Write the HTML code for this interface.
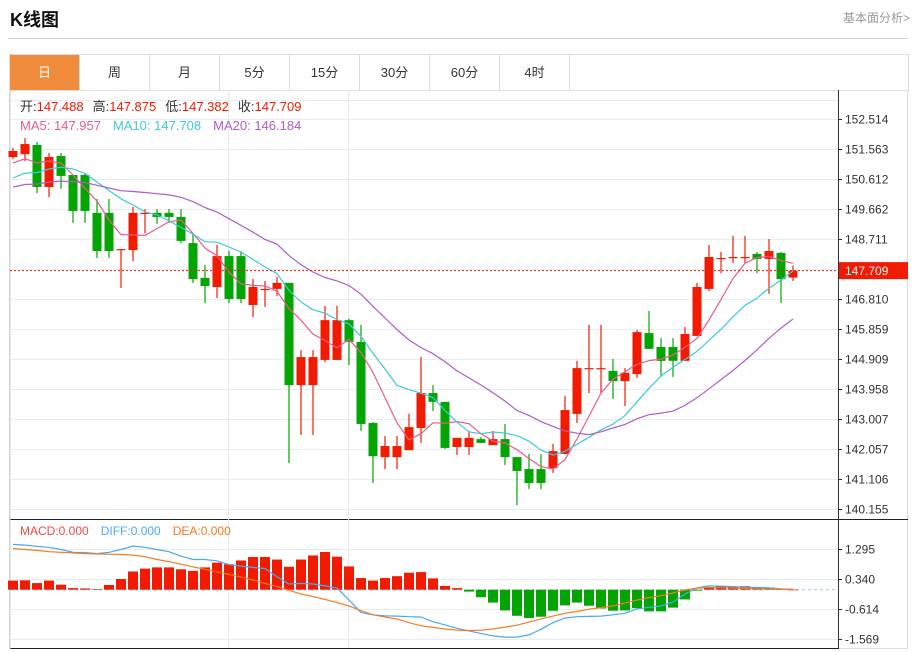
<!DOCTYPE html>
<html><head><meta charset="utf-8">
<style>
body{margin:0;background:#fff;width:918px;height:652px;overflow:hidden;font-family:"Liberation Sans","Noto Sans CJK SC",sans-serif;}
#title{position:absolute;left:10px;top:6px;font-size:18px;font-weight:bold;color:#111;}
#more{position:absolute;right:8px;top:9px;font-size:12px;color:#999;}
#hline{position:absolute;left:8px;top:38px;width:900px;height:1px;background:#d4d4d4;}
#tabs{position:absolute;left:9px;top:54px;width:898px;height:36px;border:1px solid #ddd;border-bottom:none;}
.tab{position:absolute;top:0;width:69px;height:36px;border-right:1px solid #ddd;text-align:center;line-height:36px;font-size:13px;color:#333;}
.tab.on{background:#f08c3c;color:#fff;}
svg{position:absolute;left:0;top:0;}
</style></head><body>
<div id="title">K线图</div>
<div id="more">基本面分析&gt;</div>
<div id="hline"></div>
<div id="tabs">
<div class="tab on" style="left:0">日</div>
<div class="tab" style="left:70px">周</div>
<div class="tab" style="left:140px">月</div>
<div class="tab" style="left:210px">5分</div>
<div class="tab" style="left:280px">15分</div>
<div class="tab" style="left:350px">30分</div>
<div class="tab" style="left:420px">60分</div>
<div class="tab" style="left:490px">4时</div>
</div>
<svg id="chart" width="918" height="652"></svg>
<script>
const prevCloses=[150.07,150.07,150.07,150.07,150.07,150.07,150.07,150.07,150.07,150.07,150.17,150.17,150.17,150.17,150.17,151.02,151.02,151.02,151.02];
const opens=[151.31,151.40,151.69,150.36,151.34,150.74,150.74,149.54,149.54,148.36,148.36,149.52,149.54,149.54,149.41,148.58,147.48,147.19,148.17,148.17,146.62,147.11,147.13,147.32,144.08,144.08,144.88,144.88,146.14,145.45,142.88,141.80,141.80,142.02,142.72,143.83,143.55,142.12,142.12,142.37,142.18,142.37,141.80,141.42,141.42,141.45,141.90,143.17,144.60,144.60,144.53,144.21,144.43,145.73,145.29,145.29,144.85,145.64,147.13,148.09,148.12,148.12,148.24,148.08,148.27,147.488];
const highs=[151.60,151.91,151.79,151.44,151.44,150.74,150.80,149.98,149.98,148.39,149.73,149.66,149.66,149.66,149.66,148.90,147.89,148.52,148.33,148.33,147.44,147.38,147.51,147.32,145.19,145.19,146.59,146.59,146.18,145.99,142.91,142.47,142.47,143.17,144.97,144.08,143.55,142.41,142.63,142.44,142.63,142.85,141.80,141.90,141.90,142.22,143.74,144.85,145.99,145.99,144.91,144.62,145.83,146.43,145.57,145.57,145.92,147.32,148.52,148.30,148.81,148.81,148.30,148.71,148.30,147.875];
const lows=[151.25,151.18,150.17,150.04,150.30,149.22,149.22,148.11,148.11,147.16,148.01,148.90,149.19,149.22,148.58,147.32,146.68,146.84,146.68,146.68,146.24,146.56,146.91,141.61,142.50,142.50,144.81,144.88,144.72,142.63,140.98,141.42,141.42,142.02,142.25,143.26,142.06,141.87,141.87,142.25,142.18,141.55,140.28,140.79,140.79,141.30,141.90,142.88,143.83,143.83,143.64,143.42,144.31,145.23,144.37,144.34,144.85,145.64,147.06,147.63,147.95,147.95,147.63,146.97,146.68,147.382];
const closes=[151.50,151.72,150.36,151.31,150.71,149.60,149.60,148.33,148.33,148.39,149.54,149.54,149.41,149.41,148.65,147.44,147.22,148.17,146.81,146.81,147.19,147.13,147.32,144.08,144.97,144.97,146.14,146.14,145.45,142.85,141.83,142.15,142.15,142.75,143.83,143.55,142.09,142.41,142.41,142.25,142.37,141.80,141.36,140.98,140.98,141.99,143.29,144.62,144.62,144.62,144.21,144.47,145.76,145.23,144.85,144.85,145.70,147.19,148.14,148.11,148.14,148.14,148.08,148.33,147.44,147.709];
const macdVals=[0.29,0.30,0.21,0.29,0.16,0.05,0.04,0.01,0.15,0.34,0.58,0.67,0.71,0.71,0.65,0.60,0.71,0.86,0.81,0.93,1.04,1.04,0.96,0.73,0.96,1.09,1.20,1.05,0.74,0.37,0.29,0.37,0.43,0.54,0.56,0.36,0.12,0.05,-0.06,-0.24,-0.41,-0.66,-0.83,-0.90,-0.86,-0.67,-0.50,-0.41,-0.51,-0.60,-0.67,-0.66,-0.59,-0.69,-0.69,-0.57,-0.31,-0.03,0.08,0.11,0.10,0.11,0.07,0.07,0.02,0.00];
const diffVals=[1.44,1.42,1.38,1.35,1.28,1.19,1.18,1.15,1.19,1.28,1.39,1.35,1.28,1.21,1.07,0.96,0.96,0.92,0.80,0.75,0.71,0.67,0.41,0.18,0.20,0.18,0.12,0.05,-0.33,-0.73,-0.80,-0.83,-0.84,-0.86,-0.87,-1.02,-1.12,-1.23,-1.31,-1.39,-1.47,-1.51,-1.51,-1.44,-1.26,-1.05,-0.90,-0.86,-0.85,-0.84,-0.80,-0.75,-0.61,-0.56,-0.52,-0.39,-0.14,0.06,0.12,0.11,0.10,0.08,0.07,0.06,0.03,0.01];
const deaVals=[1.31,1.28,1.25,1.21,1.19,1.17,1.15,1.14,1.13,1.12,1.10,1.05,0.96,0.89,0.81,0.73,0.65,0.57,0.49,0.40,0.31,0.20,0.10,-0.02,-0.14,-0.22,-0.31,-0.41,-0.52,-0.67,-0.80,-0.87,-0.93,-1.05,-1.15,-1.20,-1.25,-1.29,-1.30,-1.29,-1.25,-1.19,-1.13,-1.03,-0.93,-0.84,-0.75,-0.69,-0.62,-0.57,-0.52,-0.42,-0.33,-0.25,-0.19,-0.10,-0.01,0.05,0.07,0.06,0.05,0.04,0.03,0.02,0.02,0.01];
const priceTicks=["152.514","151.563","150.612","149.662","148.711","147.760","146.810","145.859","144.909","143.958","143.007","142.057","141.106","140.155"];
const macdTicks=["1.295","0.340","-0.614","-1.569"];
const lastPrice=147.709;

const svg=document.getElementById('chart');
const NS='http://www.w3.org/2000/svg';
function mk(tag,attrs,parent){const e=document.createElementNS(NS,tag);for(const k in attrs)e.setAttribute(k,attrs[k]);(parent||svg).appendChild(e);return e;}
const pTop=152.514,pBot=140.155,yTop=119,yBot=509;
function yP(p){return yTop+(pTop-p)*(yBot-yTop)/(pTop-pBot);}
function xI(i){return 13+12*i;}
const mTop=1.295,mBot=-1.569,myTop=549,myBot=639;
function yM(v){return myTop+(mTop-v)*(myBot-myTop)/(mTop-mBot);}

// frames
let g=mk('g',{});


mk('rect',{x:9.5,y:90.5,width:898,height:558,fill:'none',stroke:'#ddd'},g);
mk('line',{x1:10,y1:519.5,x2:908,y2:519.5,stroke:'#222'},g);
mk('line',{x1:838.5,y1:90,x2:838.5,y2:649,stroke:'#333'},g);
mk('line',{x1:10,y1:648.5,x2:838,y2:648.5,stroke:'#222'},g);
mk('line',{x1:10,y1:90.5,x2:10,y2:649,stroke:'#ccc'},g);
mk('line',{x1:10,y1:100.5,x2:838,y2:100.5,stroke:'#e6ecf2'},g);
[228.5,348.5].forEach(x=>mk('line',{x1:x,y1:90,x2:x,y2:648,stroke:'#e2e9f0'},g));

// price grid + ticks
priceTicks.forEach((t,k)=>{
  const y=yP(parseFloat(t));
  const ln=mk('line',{x1:10,y1:Math.round(y)+0.5,x2:838,y2:Math.round(y)+0.5,stroke:'#e6ecf2'});
  
  
  mk('line',{x1:838,y1:Math.round(y)+0.5,x2:842,y2:Math.round(y)+0.5,stroke:'#333'});
  const tx=mk('text',{x:845,y:y+4.5,'font-size':12,fill:'#333'});
  tx.textContent=t;
  
  
});
macdTicks.forEach(t=>{
  const y=yM(parseFloat(t));
  const ln=mk('line',{x1:10,y1:Math.round(y)+0.5,x2:838,y2:Math.round(y)+0.5,stroke:'#e6ecf2'});
  
  
  mk('line',{x1:838,y1:Math.round(y)+0.5,x2:842,y2:Math.round(y)+0.5,stroke:'#333'});
  const tx=mk('text',{x:845,y:y+4.5,'font-size':12,fill:'#333'});
  tx.textContent=t;
  
  
});
const z0=yM(0);
mk('line',{x1:10,y1:z0,x2:838,y2:z0,stroke:'#9cc8e8','stroke-dasharray':'3,3'});

// candles
const RED='#f21a00',GRN='#03a503';
opens.forEach((o,i)=>{
  const c=closes[i],up=c>=o,col=up?RED:GRN,x=xI(i);
  const cg=mk('g',{});
  
  
  mk('line',{x1:x,y1:yP(highs[i]),x2:x,y2:yP(lows[i]),stroke:col,'stroke-width':1.2},cg);
  const t=yP(Math.max(o,c)),b=yP(Math.min(o,c));
  mk('rect',{x:x-4.5,y:t,width:9,height:Math.max(1.2,b-t),fill:col},cg);
});

// MAs
const all=prevCloses.concat(closes),off=prevCloses.length;
function ma(n){return closes.map((_,i)=>{let s=0;for(let k=0;k<n;k++)s+=all[off+i-k];return s/n;});}
[[5,'#ec5a8c','ma5-line'],[10,'#3ec8dc','ma10-line'],[20,'#b05cc8','ma20-line']].forEach(([n,col,name])=>{
  const v=ma(n);
  const pl=mk('polyline',{points:v.map((p,i)=>xI(i)+','+yP(p).toFixed(1)).join(' '),fill:'none',stroke:col,'stroke-width':1.2});
  
  
});

// last price
mk('line',{x1:10,y1:yP(lastPrice),x2:838,y2:yP(lastPrice),stroke:'#f21a00','stroke-dasharray':'2,2'});
const lb=mk('rect',{x:839,y:yP(lastPrice)-8.5,width:69,height:17,fill:'#f21a00'});


const lt=mk('text',{x:845,y:yP(lastPrice)+4.5,'font-size':12,fill:'#fff'});
lt.textContent=lastPrice.toFixed(3);

// MACD bars
macdVals.forEach((v,i)=>{
  const y=yM(v),x=xI(i);
  const r=mk('rect',{x:x-5,y:Math.min(y,z0),width:10,height:Math.max(0.6,Math.abs(y-z0)),fill:v>=0?RED:GRN});
  
  
});
[[diffVals,'#4aa8f0','diff-line'],[deaVals,'#f57a20','dea-line']].forEach(([arr,col,name])=>{
  const pl=mk('polyline',{points:arr.map((v,i)=>xI(i)+','+yM(v).toFixed(1)).join(' '),fill:'none',stroke:col,'stroke-width':1.2});
  
  
});

// legends
function legend(y,items,name){
  const t=mk('text',{x:20,y:y,'font-size':13});
  
  
  items.forEach(([s,c,dx])=>{const sp=mk('tspan',{fill:c},t);if(dx)sp.setAttribute('dx',dx);sp.textContent=s;});
}
legend(111,[['开:','#333'],['147.488','#f21a00'],['高:','#333',9],['147.875','#f21a00'],['低:','#333',9],['147.382','#f21a00'],['收:','#333',9],['147.709','#f21a00']],'ohlc-legend');
legend(130,[['MA5: 147.957','#ec5a8c'],['MA10: 147.708','#3ec8dc',12],['MA20: 146.184','#b05cc8',12]],'ma-legend');
const mlg=mk('text',{x:20,y:535,'font-size':12});


[['MACD:0.000','#f04848',0],['DIFF:0.000','#4aa8f0',12],['DEA:0.000','#f57a20',12]].forEach(([s,c,dx])=>{const sp=mk('tspan',{fill:c,dx:dx},mlg);sp.textContent=s;});
</script>
</body></html>
